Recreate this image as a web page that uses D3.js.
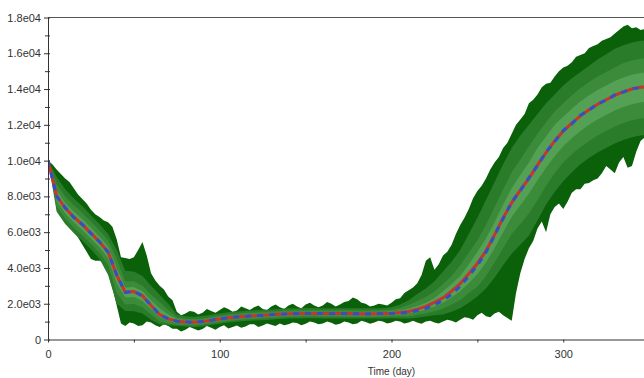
<!DOCTYPE html>
<html>
<head>
<meta charset="utf-8">
<script src="https://cdn.jsdelivr.net/npm/d3@7"></script>
<style>
  html, body { margin: 0; padding: 0; background: #fff; }
  svg { display: block; }
  .tick-label { font-family: "Liberation Sans", Arial, sans-serif; font-size: 11px; fill: #333; }
</style>
</head>
<body>
<svg id="chart" width="644" height="378"></svg>
<script>
// Simulation days: inner percentiles sampled every 5 days, outer envelope every 2.5 days
const days = d3.range(0, 351, 5);
const daysFine = d3.range(0, 350.1, 2.5);

// Median trajectory
const median = [10000,8050,7350,6850,6420,5950,5450,4900,3600,2650,2680,2450,1900,1400,1150,1030,980,960,1000,1080,
  1150,1220,1260,1300,1330,1350,1380,1410,1440,1450,1460,1460,1450,1450,1450,1450,1440,1440,1440,1450,
  1470,1510,1570,1700,1850,2080,2330,2700,3120,3680,4250,4950,5850,6800,7650,8350,9000,9750,10450,11100,
  11650,12100,12500,12850,13150,13400,13650,13850,14000,14100,14150];

// Mean trajectory
const mean = [10000,8000,7380,6820,6440,5930,5470,4880,3620,2630,2700,2430,1920,1380,1160,1020,990,960,1010,1070,
  1160,1210,1270,1290,1340,1340,1390,1400,1450,1440,1470,1450,1460,1440,1460,1440,1450,1430,1450,1440,
  1460,1480,1520,1620,1740,1950,2180,2530,2980,3560,4150,4880,5820,6760,7680,8320,9040,9720,10480,11060,
  11680,12060,12540,12820,13180,13380,13680,13830,14020,14080,14160];

// Outer envelope (min / max), every 2.5 days
const hi4 = [10000,9800,9500,9250,9000,8800,8450,8100,7850,7600,
  7250,7000,6850,6650,6550,6300,5600,4600,4550,4500,
  4600,5000,5450,4700,3700,3300,3000,2800,2400,2200,
  1550,1350,1450,1600,1550,1400,1500,1700,1600,1500,
  1650,1800,1700,1550,1620,1850,1750,1650,1800,1900,
  1700,1650,1850,1950,1800,1700,1900,2000,1850,1750,
  1950,2050,1900,1800,1900,2100,2000,1850,1950,2100,
  2150,2350,2250,2050,2000,1850,1900,2000,1950,1900,
  2050,2250,2300,2600,2750,2900,3150,3600,4400,4600,
  3900,4200,4700,4900,5300,5900,6400,6800,7300,7900,
  8300,8600,9000,9500,9900,10200,10700,11000,11500,12000,
  12300,12600,13200,13400,13700,14100,14300,14350,14700,15000,
  15200,15300,15500,15800,15900,16000,16300,16400,16500,16700,
  16800,16900,17100,17300,17500,17600,17400,17450,17300,17350,
  17400];
const lo4 = [9800,8800,7900,7300,6850,6350,6000,5700,5300,4900,
  4500,4400,4400,4300,3700,2900,1900,900,750,950,
  900,750,800,1000,950,800,700,850,750,600,
  600,450,550,700,600,500,580,750,650,550,
  700,800,620,700,780,650,720,850,850,700,
  780,900,820,750,900,800,850,950,920,800,
  880,1000,950,850,900,1000,930,820,880,1000,
  950,850,900,1050,980,880,950,1050,1000,900,
  950,1050,1000,900,950,1050,950,880,1000,1050,
  950,900,1000,1100,1050,950,1100,1250,1200,1100,
  1350,1500,1300,1250,1450,1550,1350,1200,1050,2600,
  3700,4500,5100,5500,6200,6600,6000,7000,7400,7600,
  7300,7700,8200,8400,8400,8700,8750,8900,9000,9300,
  9700,9500,9300,9900,10200,9600,9700,10500,11100,11300,
  11500];

// Inner percentile bands, from the widest (hi3/lo3) to the narrowest (hi1/lo1)
const hi3 = [10000,9100,8400,7900,7450,6950,6450,5900,5000,3850,3800,3550,3000,2500,2000,1400,1300,1270,1310,1390,
  1450,1520,1560,1600,1630,1650,1680,1710,1740,1750,1760,1760,1750,1750,1750,1750,1740,1740,1740,1750,
  1800,1950,2200,2550,2850,3250,3800,4350,5000,5900,6800,7800,8800,9800,10700,11400,12000,12600,13200,13700,
  14200,14600,14950,15300,15650,15950,16250,16450,16600,16700,16750];
const hi2 = [10000,8700,8000,7500,7070,6600,6100,5550,4500,3250,3250,3000,2500,2100,1650,1250,1160,1140,1180,1260,
  1330,1400,1440,1480,1510,1530,1560,1590,1620,1630,1640,1640,1630,1630,1630,1630,1620,1620,1620,1630,
  1660,1760,1930,2150,2380,2680,3100,3550,4150,4850,5550,6400,7400,8400,9350,10050,10800,11500,12150,12750,
  13200,13650,14050,14400,14700,14950,15200,15450,15600,15700,15750];
const hi1 = [10000,8350,7650,7150,6720,6250,5750,5200,4000,2900,2930,2700,2200,1750,1400,1150,1070,1050,1090,1170,
  1240,1310,1350,1390,1420,1440,1470,1500,1530,1540,1550,1550,1540,1540,1540,1540,1530,1530,1530,1540,
  1560,1620,1720,1870,2050,2300,2700,3100,3550,4200,4900,5650,6550,7550,8450,9200,9900,10700,11350,12000,
  12450,12900,13300,13650,13950,14200,14450,14650,14800,14900,14950];
const lo1 = [10000,7750,7050,6550,6120,5650,5150,4550,3150,2350,2370,2150,1700,1250,1050,930,890,870,910,990,
  1060,1130,1170,1210,1240,1260,1290,1320,1350,1360,1370,1370,1360,1360,1360,1360,1350,1350,1350,1360,
  1370,1400,1450,1550,1670,1850,2050,2350,2700,3150,3650,4300,5100,6000,6850,7500,8150,8900,9600,10250,
  10800,11250,11650,12000,12300,12550,12800,13000,13150,13250,13300];
const lo2 = [10000,7450,6750,6250,5820,5350,4850,4150,2600,1950,1980,1800,1400,1000,900,830,800,780,820,900,
  970,1040,1080,1120,1150,1170,1200,1230,1260,1270,1280,1280,1270,1270,1270,1270,1260,1260,1260,1270,
  1280,1290,1290,1380,1450,1580,1720,1950,2200,2600,2950,3550,4300,5100,5900,6450,7050,7800,8600,9300,
  9900,10350,10750,11100,11400,11650,11900,12100,12250,12350,12400];
const lo3 = [10000,7150,6450,5950,5520,5050,4500,3600,2000,1600,1580,1450,1100,850,800,760,720,700,730,810,
  880,950,990,1030,1060,1080,1110,1140,1170,1180,1190,1190,1180,1180,1180,1180,1170,1170,1170,1180,
  1190,1180,1170,1220,1280,1350,1400,1550,1750,2050,2400,2850,3450,4150,4800,5300,5800,6650,7550,8250,
  8850,9350,9800,10150,10450,10700,10950,11150,11300,11400,11450];

// Axis ticks
const yMajorTicks = [0,2000,4000,6000,8000,10000,12000,14000,16000,18000];
const yTickLabels = ["0","2.0e03","4.0e03","6.0e03","8.0e03","1.0e04","1.2e04","1.4e04","1.6e04","1.8e04"];
const yMinorTicks = [1000,3000,5000,7000,9000,11000,13000,15000,17000];
const xMajorTicks = [0,100,200,300];
const xMinorTicks = [50,150,250,350];
const xTitle = "Time (day)";

const bandColors = ["#0a610a", "#2a7b2a", "#3b8b3b", "#54a054"];

const svg = d3.select("#chart");
const W = 644;

const x = d3.scaleLinear().domain([0, 400]).range([48, 735]);
const y = d3.scaleLinear().domain([0, 18000]).range([339.5, 17.5]);

const area = d3.area()
  .x(d => x(d.t))
  .y0(d => y(d.lo))
  .y1(d => y(d.hi));

svg.append("defs").append("clipPath").attr("id", "plot")
  .append("rect").attr("x", 48).attr("y", 17.5).attr("width", W - 48).attr("height", 339.5 - 17.5);

const plot = svg.append("g").attr("clip-path", "url(#plot)");

const bands = [
  [daysFine, lo4, hi4],
  [days, lo3, hi3],
  [days, lo2, hi2],
  [days, lo1, hi1]
];
bands.forEach(([ts, lo, hi], i) => {
  const rows = ts.map((t, j) => ({ t, lo: lo[j], hi: hi[j] }));
  plot.append("path")
    .datum(rows)
    .attr("d", area)
    .attr("fill", bandColors[i]);
});

const line = d3.line().x(d => x(d.t)).y(d => y(d.v));
plot.append("path")
  .datum(days.map((t, j) => ({ t, v: median[j] })))
  .attr("d", line)
  .attr("fill", "none")
  .attr("stroke", "#c8352a")
  .attr("stroke-width", 3);
plot.append("path")
  .datum(days.map((t, j) => ({ t, v: mean[j] })))
  .attr("d", line)
  .attr("fill", "none")
  .attr("stroke", "#3050c8")
  .attr("stroke-width", 3)
  .attr("stroke-dasharray", "6,6");

// Frame: top edge and the two axis lines
const axisColor = "#333";
svg.append("line").attr("x1", 48).attr("x2", W).attr("y1", 17.5).attr("y2", 17.5)
  .attr("stroke", "#555").attr("stroke-width", 1);

const yAxis = d3.axisLeft(y)
  .tickValues(yMajorTicks)
  .tickFormat((d, i) => yTickLabels[i])
  .tickSizeInner(4).tickSizeOuter(0).tickPadding(3);
const gy = svg.append("g").attr("transform", "translate(48,0)").call(yAxis);
gy.select(".domain").attr("stroke", axisColor);
gy.selectAll(".tick line").attr("stroke", axisColor).attr("x2", 2).attr("x1", -4);
gy.selectAll(".tick text").attr("class", "tick-label").attr("font-family", null).attr("font-size", null);

const gyMinor = svg.append("g").attr("transform", "translate(48,0)")
  .call(d3.axisLeft(y).tickValues(yMinorTicks).tickFormat("").tickSizeInner(3).tickSizeOuter(0));
gyMinor.select(".domain").remove();
gyMinor.selectAll(".tick line").attr("stroke", axisColor).attr("x2", 2).attr("x1", -3);

const xAxis = d3.axisBottom(x)
  .tickValues(xMajorTicks)
  .tickFormat(d3.format("d"))
  .tickSizeInner(3).tickSizeOuter(0).tickPadding(8);
const gx = svg.append("g").attr("transform", "translate(0,339.5)").call(xAxis);
gx.select(".domain").attr("stroke", axisColor);
gx.selectAll(".tick line").attr("stroke", axisColor);
gx.selectAll(".tick text").attr("class", "tick-label").attr("font-family", null).attr("font-size", null);

const gxMinor = svg.append("g").attr("transform", "translate(0,339.5)")
  .call(d3.axisBottom(x).tickValues(xMinorTicks).tickFormat("").tickSizeInner(3).tickSizeOuter(0));
gxMinor.select(".domain").remove();
gxMinor.selectAll(".tick line").attr("stroke", axisColor);

svg.append("text")
  .attr("class", "tick-label")
  .attr("x", x(200))
  .attr("y", 375)
  .attr("text-anchor", "middle")
  .style("font-size", "10px")
  .text(xTitle);
</script>
</body>
</html>
